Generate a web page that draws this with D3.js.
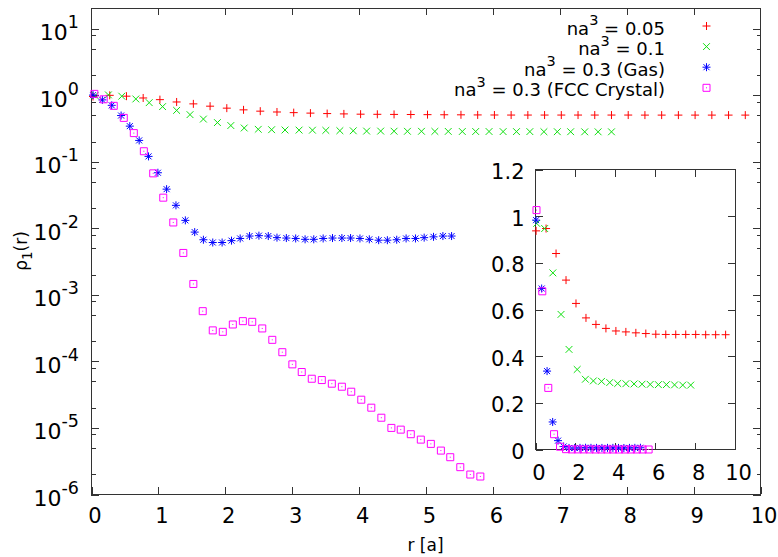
<!DOCTYPE html>
<html>
<head>
<meta charset="utf-8">
<script src="https://cdn.jsdelivr.net/npm/d3@7"></script>
<style>
body { margin: 0; background: #fff; }
svg { display: block; font-family: "DejaVu Sans", sans-serif; }
</style>
</head>
<body>
<div id="chart"></div>
<script>
const width = 778;
const height = 557;

// r positions (units of a) and rho_1(r) values
const rLow = [0.03, 0.28, 0.53, 0.78, 1.03, 1.28, 1.53, 1.78, 2.03, 2.28, 2.53, 2.78, 3.03, 3.28, 3.53, 3.78, 4.03, 4.28, 4.53, 4.78,
    5.03, 5.28, 5.53, 5.78, 6.03, 6.28, 6.53, 6.78, 7.03, 7.28, 7.53, 7.78, 8.03, 8.28, 8.53, 8.78, 9.03, 9.28, 9.53, 9.78];
const rhoLow = [0.937, 0.975, 0.947, 0.89, 0.84, 0.775, 0.726, 0.67, 0.626, 0.59, 0.564, 0.548, 0.536, 0.527, 0.519, 0.513, 0.508, 0.506, 0.504, 0.502,
    0.500, 0.498, 0.497, 0.495, 0.494, 0.493, 0.493, 0.493, 0.493, 0.493, 0.493, 0.493, 0.493, 0.492, 0.492, 0.492, 0.492, 0.492, 0.492, 0.492];

const rMid = [0.06, 0.26, 0.46, 0.67, 0.87, 1.07, 1.28, 1.48, 1.68, 1.89, 2.09, 2.29, 2.50, 2.70, 2.90, 3.11, 3.31, 3.51, 3.72, 3.92,
    4.12, 4.33, 4.53, 4.73, 4.94, 5.14, 5.34, 5.55, 5.75, 5.95, 6.16, 6.36, 6.56, 6.77, 6.97, 7.17, 7.38, 7.58, 7.78];
const rhoMid = [0.969, 0.99, 0.947, 0.86, 0.757, 0.66, 0.579, 0.50, 0.429, 0.38, 0.343, 0.315, 0.301, 0.297, 0.294, 0.293, 0.292, 0.290, 0.287, 0.286,
    0.283, 0.283, 0.282, 0.281, 0.281, 0.280, 0.280, 0.279, 0.279, 0.279, 0.278, 0.278, 0.278, 0.277, 0.277, 0.277, 0.276, 0.276, 0.276];

const rGas = [0.03, 0.17, 0.31, 0.45, 0.58, 0.72, 0.86, 1.00, 1.13, 1.27, 1.41, 1.55, 1.68, 1.82, 1.96, 2.10, 2.23, 2.37, 2.51, 2.65,
    2.78, 2.92, 3.06, 3.20, 3.33, 3.47, 3.61, 3.75, 3.88, 4.02, 4.16, 4.30, 4.43, 4.57, 4.71, 4.85, 4.98, 5.12, 5.26, 5.39];
const rhoGas = [0.983, 0.833, 0.69, 0.485, 0.336, 0.205, 0.118, 0.067, 0.038, 0.0217, 0.0129, 0.0086, 0.0066, 0.0060, 0.0060, 0.0064, 0.0069, 0.0075, 0.0076, 0.0075,
    0.0071, 0.0070, 0.0069, 0.0067, 0.0067, 0.0069, 0.0070, 0.0070, 0.0070, 0.0069, 0.0067, 0.0065, 0.0065, 0.0066, 0.0069, 0.0069, 0.0071, 0.0073, 0.0075, 0.0075];

const rFcc = [0.05, 0.19, 0.34, 0.49, 0.64, 0.79, 0.93, 1.08, 1.23, 1.38, 1.53, 1.67, 1.82, 1.97, 2.12, 2.27, 2.41, 2.56, 2.71, 2.86,
    3.01, 3.15, 3.30, 3.45, 3.60, 3.75, 3.89, 4.04, 4.19, 4.34, 4.49, 4.63, 4.78, 4.93, 5.08, 5.23, 5.37, 5.52, 5.67, 5.82];
const rhoFcc = [1.026, 0.85, 0.678, 0.447, 0.264, 0.141, 0.0656, 0.0283, 0.012, 0.00418, 0.00143, 0.000558, 0.000287, 0.000273, 0.000352, 0.000395, 0.000386, 0.000307, 0.000207, 0.000135,
    8.86e-5, 6.8e-5, 5.39e-5, 5.15e-5, 4.54e-5, 4.09e-5, 3.44e-5, 2.61e-5, 1.98e-5, 1.40e-5, 9.84e-6, 9.27e-6, 7.91e-6, 6.56e-6, 5.66e-6, 4.49e-6, 3.57e-6, 2.53e-6, 1.96e-6, 1.83e-6];

// legend text pieces: before superscript, superscript, after
const legendLabels = [["na", "3", " = 0.05"], ["na", "3", " = 0.1"], ["na", "3", " = 0.3 (Gas)"], ["na", "3", " = 0.3 (FCC Crystal)"]];

const xTicks = [0, 1, 2, 3, 4, 5, 6, 7, 8, 9, 10];
const yMajor = [1e-6, 1e-5, 1e-4, 1e-3, 1e-2, 1e-1, 1, 10];
const yMinor = [2e-6, 5e-6, 8e-6, 2e-5, 5e-5, 8e-5, 2e-4, 5e-4, 8e-4, 2e-3, 5e-3, 8e-3, 2e-2, 5e-2, 8e-2, 0.2, 0.5, 0.8, 2, 5, 8];
const insetXTicks = [0, 2, 4, 6, 8, 10];
const insetYTicks = [0, 0.2, 0.4, 0.6, 0.8, 1, 1.2];

const series = [
    {r: rLow, v: rhoLow, color: "#ff0000", shape: "plus"},
    {r: rMid, v: rhoMid, color: "#11e011", shape: "cross"},
    {r: rGas, v: rhoGas, color: "#0000ff", shape: "star"},
    {r: rFcc, v: rhoFcc, color: "#ff00ff", shape: "box"}
];

function markerPath(shape) {
    const p = "M-4,0H4M0,-4V4";
    const c = "M-3.4,-3.4L3.4,3.4M-3.4,3.4L3.4,-3.4";
    if (shape === "plus") return p;
    if (shape === "cross") return c;
    if (shape === "star") return p + "M-3,-3L3,3M-3,3L3,-3";
    return "M-3.5,-3.5H3.5V3.5H-3.5ZM-0.5,0H0.5";
}

const x = d3.scaleLinear().domain([0, 10]).range([91, 760]);
const y = d3.scaleLog().domain([1e-6, 20]).range([494, 8]);

const xi = d3.scaleLinear().domain([0, 10]).range([535.5, 735]);
const yi = d3.scaleLinear().domain([0, 1.2]).range([449.5, 169.5]);

const svg = d3.select("#chart").append("svg").attr("width", width).attr("height", height);

const frameColor = "#333";

function styleAxis(sel) {
    sel.attr("font-size", null).attr("font-family", null).style("color", frameColor);
    sel.select(".domain").remove();
    sel.selectAll(".tick line").attr("shape-rendering", "crispEdges");
}

//main plot
svg.append("rect")
    .attr("x", x(0) + 0.5).attr("y", y(20) + 0.5)
    .attr("width", x(10) - x(0)).attr("height", y(1e-6) - y(20))
    .attr("fill", "none").attr("stroke", frameColor).attr("shape-rendering", "crispEdges");

const axB = svg.append("g").attr("transform", `translate(0.5,${y(1e-6)})`)
    .call(d3.axisBottom(x).tickValues(xTicks).tickSizeInner(-7).tickSizeOuter(0).tickFormat(d3.format("d")));
styleAxis(axB);
axB.selectAll("text").attr("y", 29).attr("dy", null).attr("dx", 3).style("font-size", "21px").attr("fill", "#000");

const axT = svg.append("g").attr("transform", `translate(0.5,${y(20)})`)
    .call(d3.axisTop(x).tickValues(xTicks.slice(1, -1)).tickSizeInner(-7).tickSizeOuter(0).tickFormat(""));
styleAxis(axT);

const axL = svg.append("g").attr("transform", `translate(${x(0)},0.5)`)
    .call(d3.axisLeft(y).tickValues(yMajor).tickSizeInner(-8).tickSizeOuter(0).tickFormat(""));
styleAxis(axL);
axL.selectAll(".tick text").each(function(d) {
    const t = d3.select(this).attr("x", -12).attr("y", 11).attr("dy", null)
        .attr("text-anchor", "end").attr("fill", "#000").style("font-size", "22px");
    t.append("tspan").text("10");
    t.append("tspan").attr("dy", -12).style("font-size", "17.5px").text(Math.round(Math.log10(d)));
});

const axLm = svg.append("g").attr("transform", `translate(${x(0)},0.5)`)
    .call(d3.axisLeft(y).tickValues(yMinor).tickSizeInner(-4.5).tickSizeOuter(0).tickFormat(""));
styleAxis(axLm);

const axR = svg.append("g").attr("transform", `translate(${x(10) + 1},0.5)`)
    .call(d3.axisRight(y).tickValues(yMajor).tickSizeInner(-8).tickSizeOuter(0).tickFormat(""));
styleAxis(axR);
const axRm = svg.append("g").attr("transform", `translate(${x(10) + 1},0.5)`)
    .call(d3.axisRight(y).tickValues(yMinor).tickSizeInner(-4.5).tickSizeOuter(0).tickFormat(""));
styleAxis(axRm);

// points of the main plot
series.forEach(s => {
    svg.append("g")
        .selectAll("path")
        .data(s.r.map((r, i) => ({r: r, v: s.v[i]})))
        .join("path")
        .attr("transform", d => `translate(${x(d.r)},${y(d.v)})`)
        .attr("d", markerPath(s.shape))
        .attr("fill", "none")
        .attr("stroke", s.color)
        .attr("stroke-width", 1);
});

// axis titles
svg.append("text")
    .attr("x", (x(0) + x(10)) / 2).attr("y", 551)
    .attr("text-anchor", "middle").style("font-size", "17px")
    .text("r [a]");

const yTitle = svg.append("text")
    .attr("transform", `translate(27,${(y(20) + y(1e-6)) / 2}) rotate(-90)`)
    .attr("text-anchor", "middle").style("font-size", "17px");
yTitle.append("tspan").text("ρ");
yTitle.append("tspan").attr("dy", 5).style("font-size", "13.5px").text("1");
yTitle.append("tspan").attr("dy", -5).text("(r)");

// legend
const legend = svg.append("g");
legendLabels.forEach((lab, i) => {
    const cy = 26 + i * 20.6;
    const t = legend.append("text")
        .attr("x", 665).attr("y", cy + 8.5)
        .attr("text-anchor", "end").style("font-size", "18px");
    t.append("tspan").text(lab[0]);
    t.append("tspan").attr("dy", -9.5).style("font-size", "14.5px").text(lab[1]);
    t.append("tspan").attr("dy", 9.5).text(lab[2]);
    legend.append("path")
        .attr("transform", `translate(706.5,${cy})`)
        .attr("d", markerPath(series[i].shape))
        .attr("fill", "none").attr("stroke", series[i].color);
});

//inset
svg.append("rect")
    .attr("x", xi(0)).attr("y", yi(1.2))
    .attr("width", xi(10) - xi(0)).attr("height", yi(0) - yi(1.2))
    .attr("fill", "#fff").attr("stroke", frameColor).attr("shape-rendering", "crispEdges");

const iB = svg.append("g").attr("transform", `translate(0,${yi(0)})`)
    .call(d3.axisBottom(xi).tickValues(insetXTicks).tickSizeInner(-7).tickSizeOuter(0).tickFormat(d3.format("d")));
styleAxis(iB);
iB.selectAll("text").attr("y", 30).attr("dy", null).attr("dx", 3).style("font-size", "21px").attr("fill", "#000");

const iT = svg.append("g").attr("transform", `translate(0,${yi(1.2)})`)
    .call(d3.axisTop(xi).tickValues(insetXTicks.slice(1, -1)).tickSizeInner(-7).tickSizeOuter(0).tickFormat(""));
styleAxis(iT);

const iL = svg.append("g").attr("transform", `translate(${xi(0)},0)`)
    .call(d3.axisLeft(yi).tickValues(insetYTicks).tickSizeInner(-7).tickSizeOuter(0).tickFormat(d3.format("~g")));
styleAxis(iL);
iL.selectAll("text").attr("x", -11).attr("y", 9).attr("dy", null).style("font-size", "21px").attr("fill", "#000");

const iR = svg.append("g").attr("transform", `translate(${xi(10)},0)`)
    .call(d3.axisRight(yi).tickValues(insetYTicks.slice(1, -1)).tickSizeInner(-7).tickSizeOuter(0).tickFormat(""));
styleAxis(iR);

// inset shows every second sample
series.forEach(s => {
    svg.append("g")
        .selectAll("path")
        .data(s.r.map((r, i) => ({r: r, v: s.v[i]})).filter((d, i) => i % 2 === 0))
        .join("path")
        .attr("transform", d => `translate(${xi(d.r)},${yi(d.v)})`)
        .attr("d", markerPath(s.shape))
        .attr("fill", "none")
        .attr("stroke", s.color)
        .attr("stroke-width", 1);
});
</script>
</body>
</html>
